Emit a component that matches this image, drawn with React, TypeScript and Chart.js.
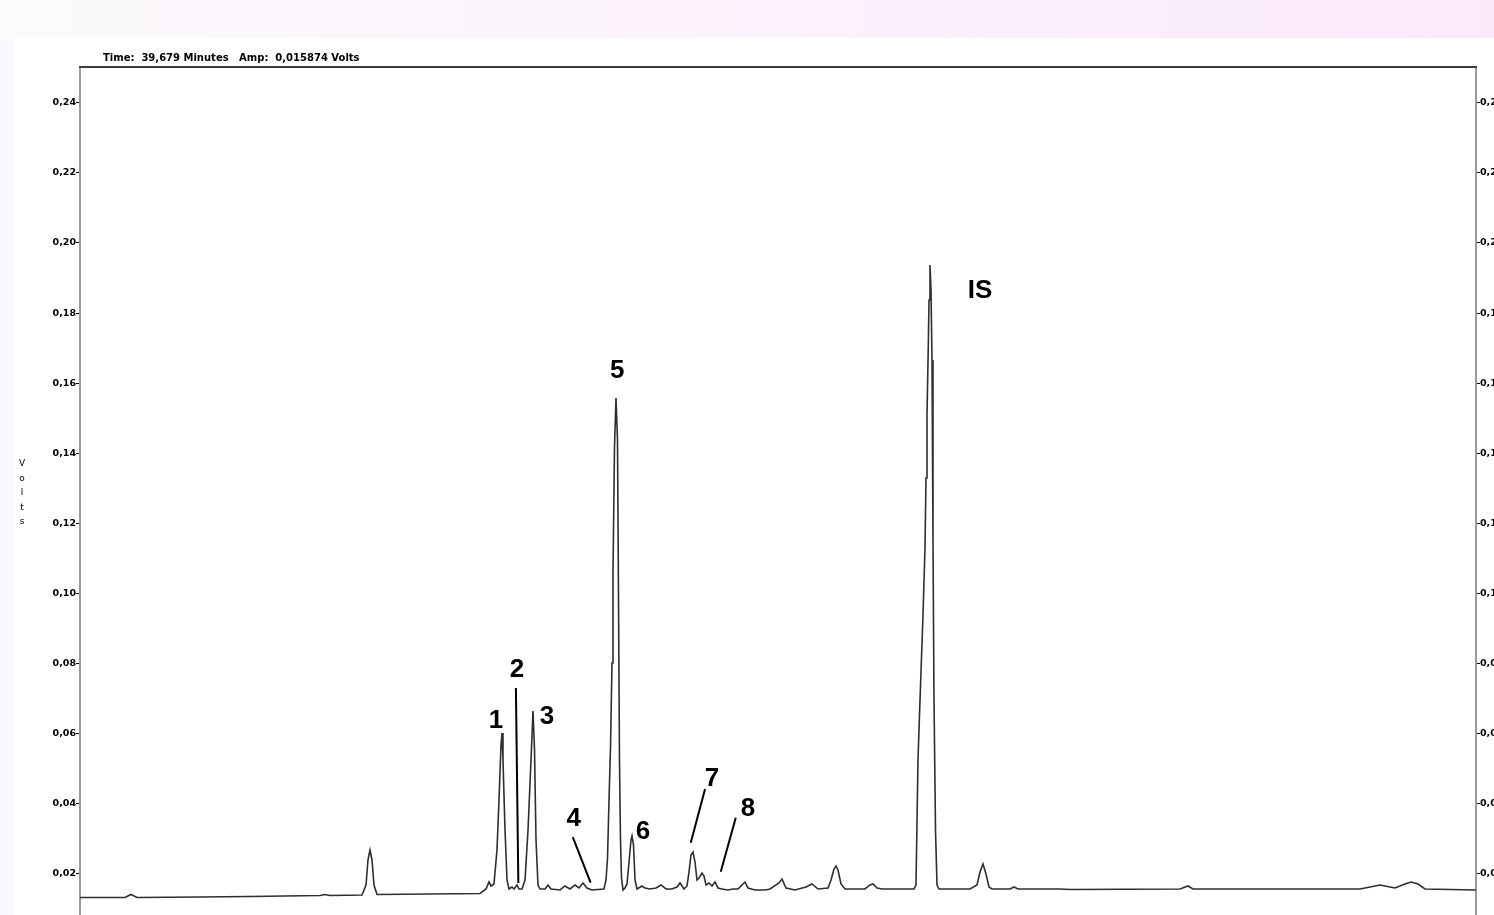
import React, { useEffect, useRef } from "react";
import { Chart, registerables } from "chart.js";

Chart.register(...registerables);

// Retention time (minutes) and detector signal (volts)
const TIME_MIN = [
  0, 1.289, 1.461, 1.633, 3.438, 4.871, 6.877, 7.02, 7.163,
  8.08, 8.195, 8.252, 8.309, 8.367, 8.424, 8.51,
  10.029, 11.461, 11.633, 11.719, 11.777, 11.862, 11.948, 12.006, 12.063, 12.092, 12.12, 12.178, 12.235, 12.292,
  12.378, 12.436, 12.521, 12.579, 12.665,
  12.751, 12.837, 12.923, 12.98, 13.023, 13.066, 13.123, 13.181,
  13.324, 13.41, 13.496, 13.754, 13.897, 14.04, 14.183, 14.298, 14.413, 14.527, 14.67, 15.014,
  15.072, 15.115, 15.158, 15.201, 15.244, 15.272, 15.315, 15.358, 15.401, 15.43, 15.458, 15.487, 15.516, 15.559, 15.616,
  15.673, 15.731, 15.788, 15.817, 15.86, 15.903, 15.96,
  16.103, 16.189, 16.332, 16.504, 16.648, 16.791, 16.963, 17.106, 17.192, 17.307, 17.393,
  17.45, 17.507, 17.564, 17.622, 17.679, 17.736, 17.822, 17.88, 17.937, 18.023, 18.109, 18.195, 18.281, 18.395, 18.567, 18.711, 18.854,
  18.968, 19.054, 19.14, 19.341, 19.628, 19.771, 20.029, 20.115, 20.229, 20.487, 20.802, 20.974, 21.146, 21.433, 21.519, 21.605, 21.662, 21.719, 21.805, 21.92,
  22.493, 22.636, 22.722, 22.837, 22.98, 23.897,
  23.954, 24.011, 24.054, 24.097, 24.155, 24.212, 24.241, 24.269, 24.307, 24.327, 24.355, 24.384, 24.413, 24.441, 24.47, 24.513, 24.556, 24.613,
  25.501, 25.702, 25.788, 25.874, 25.96, 26.046, 26.132, 26.648, 26.762, 26.877,
  28.08, 28.367, 31.519, 31.748, 31.891,
  36.676, 36.963, 37.249, 37.536, 37.679, 37.966, 38.138, 38.338, 38.539, 40.0,
];

const SIGNAL_V = [
  0.01327, 0.01327, 0.01412, 0.01327, 0.01341, 0.01355, 0.01384, 0.01412, 0.01384,
  0.01398, 0.01683, 0.02397, 0.02682, 0.02397, 0.01683, 0.01412,
  0.01427, 0.01441, 0.01569, 0.01769, 0.01655, 0.01712, 0.02682, 0.04108, 0.05677, 0.0602, 0.0525, 0.03252, 0.01826, 0.01569,
  0.01626, 0.01569, 0.01683, 0.01569, 0.01569,
  0.01826, 0.03252, 0.0525, 0.06647, 0.05535, 0.02967, 0.01683, 0.01569,
  0.01569, 0.01683, 0.01569, 0.01541, 0.01655, 0.01569, 0.01683, 0.01598, 0.0174, 0.01598, 0.01541, 0.01569,
  0.01826, 0.02454, 0.04108, 0.0562, 0.08017, 0.10585, 0.14179, 0.15577, 0.14379, 0.099, 0.0525, 0.02967, 0.01883, 0.01541, 0.01598,
  0.01712, 0.02339, 0.02967, 0.03081, 0.02824, 0.01826, 0.01569,
  0.01655, 0.01598, 0.01569, 0.01598, 0.01683, 0.01569, 0.01569, 0.01626, 0.0174, 0.01569, 0.01655,
  0.02054, 0.02539, 0.02625, 0.02339, 0.01826, 0.01883, 0.02026, 0.0194, 0.01683, 0.0174, 0.01655, 0.01769, 0.01598, 0.01569, 0.01541, 0.01569, 0.01569,
  0.01683, 0.01769, 0.01598, 0.01541, 0.01541, 0.01569, 0.0174, 0.01854, 0.01598, 0.01541, 0.01626, 0.01712, 0.01569, 0.01598, 0.01826, 0.0214, 0.02225, 0.02111, 0.01712, 0.01569,
  0.01569, 0.01683, 0.01712, 0.01598, 0.01569, 0.01569,
  0.01683, 0.0525, 0.06533, 0.0776, 0.09386, 0.11298, 0.13295, 0.15092, 0.17089, 0.18373, 0.19372, 0.18659, 0.16662, 0.11526, 0.06961, 0.03252, 0.01683, 0.01569,
  0.01569, 0.01683, 0.02054, 0.02282, 0.01997, 0.01626, 0.01569, 0.01569, 0.01626, 0.01569,
  0.01569, 0.01555, 0.01569, 0.01655, 0.01569,
  0.01569, 0.01626, 0.01683, 0.01626, 0.01598, 0.01712, 0.01769, 0.01712, 0.01569, 0.01541,
];

const Y_TICKS = [0.02, 0.04, 0.06, 0.08, 0.1, 0.12, 0.14, 0.16, 0.18, 0.2, 0.22, 0.24];
const Y_TICK_LABELS = ["0,02", "0,04", "0,06", "0,08", "0,10", "0,12", "0,14", "0,16", "0,18", "0,20", "0,22", "0,24"];

const PEAK_LABELS = ["1", "2", "3", "4", "5", "6", "7", "8", "IS"];
const PEAK_LABEL_T = [11.92, 12.52, 13.38, 14.15, 15.39, 16.13, 18.11, 19.14, 25.79];
const PEAK_LABEL_V = [0.0639, 0.0785, 0.065, 0.0359, 0.1638, 0.0322, 0.0474, 0.0388, 0.1866];

// Leader lines: [t1, v1, t2, v2]
const LEADERS = [
  [12.49, 0.073, 12.56, 0.0174],
  [14.12, 0.0305, 14.63, 0.0175],
  [17.91, 0.0442, 17.5, 0.0289],
  [18.79, 0.036, 18.36, 0.0206],
];

const HEADER = "Time:  39,679 Minutes   Amp:  0,015874 Volts";
const Y_TITLE = "Volts";

const Y_MIN = 0.00827;
const Y_MAX = 0.2502;

const SMALL_FONT = "'DejaVu Sans', Verdana, sans-serif";

export default function App() {
  const ref = useRef<HTMLCanvasElement | null>(null);

  useEffect(() => {
    if (!ref.current) return;
    const points = TIME_MIN.map((t, i) => ({ x: t, y: SIGNAL_V[i] }));

    const overlay = {
      id: "overlay",
      afterDraw(chart: any) {
        const { ctx, chartArea, scales } = chart;
        const xs = scales.x;
        const ys = scales.y;
        ctx.save();
        // top frame line
        ctx.strokeStyle = "#3c3c3c";
        ctx.lineWidth = 2;
        ctx.beginPath();
        ctx.moveTo(chartArea.left - 1, chartArea.top);
        ctx.lineTo(chartArea.right + 1, chartArea.top);
        ctx.stroke();

        // header
        ctx.fillStyle = "#000";
        ctx.font = "bold 10px " + SMALL_FONT;
        ctx.textAlign = "left";
        ctx.textBaseline = "middle";
        ctx.fillText(HEADER, 103, 58);

        // vertical y title
        ctx.font = "9px " + SMALL_FONT;
        ctx.textAlign = "center";
        Y_TITLE.split("").forEach((ch, i) => {
          ctx.fillText(ch, 22, 464 + i * 14.5);
        });

        // leader lines
        ctx.strokeStyle = "#000";
        ctx.lineWidth = 2;
        LEADERS.forEach(([t1, v1, t2, v2]) => {
          ctx.beginPath();
          ctx.moveTo(xs.getPixelForValue(t1), ys.getPixelForValue(v1));
          ctx.lineTo(xs.getPixelForValue(t2), ys.getPixelForValue(v2));
          ctx.stroke();
        });

        // peak labels
        ctx.font = "bold 26px Arial, 'Liberation Sans', sans-serif";
        ctx.textAlign = "center";
        ctx.textBaseline = "middle";
        PEAK_LABELS.forEach((lab, i) => {
          ctx.fillText(lab, xs.getPixelForValue(PEAK_LABEL_T[i]), ys.getPixelForValue(PEAK_LABEL_V[i]) + 1);
        });
        ctx.restore();
      },
    };

    const axisCommon = (pos: string, w: number) => ({
      position: pos,
      min: Y_MIN,
      max: Y_MAX,
      afterFit: (s: any) => {
        s.width = w;
        s.paddingTop = 0;
        s.paddingBottom = 0;
      },
      afterBuildTicks: (s: any) => {
        s.ticks = Y_TICKS.map((v) => ({ value: v }));
      },
      ticks: {
        callback: (_v: any, i: number) => Y_TICK_LABELS[i],
        font: { size: 9.5, weight: "bold", family: SMALL_FONT },
        color: "#000",
        padding: 0,
      },
      grid: { drawOnChartArea: false, drawTicks: true, tickLength: 4, color: "#000", tickWidth: 1 },
      border: { color: "#9b9b9b", width: 2 },
    });

    const chart = new Chart(ref.current, {
      type: "line",
      data: {
        datasets: [
          {
            data: points,
            borderColor: "#2e2e2e",
            borderWidth: 1.6,
            pointRadius: 0,
            tension: 0,
            fill: false,
          },
        ],
      },
      options: {
        animation: false,
        responsive: false,
        devicePixelRatio: 1,
        layout: { padding: { top: 67, left: 0, right: 0, bottom: 0 } },
        plugins: { legend: { display: false }, tooltip: { enabled: false }, title: { display: false } },
        scales: {
          x: { type: "linear", min: 0, max: 40, display: false },
          y: axisCommon("left", 80) as any,
          y2: axisCommon("right", 18) as any,
        },
      },
      plugins: [overlay],
    });
    return () => chart.destroy();
  }, []);

  return (
    <div style={{ position: "fixed", left: 0, top: 0, width: 1494, height: 915, background: "#f9f8fc", overflow: "hidden" }}>
      <div style={{ position: "absolute", left: 0, top: 0, width: 1494, height: 38, background: "linear-gradient(to right, #fcfafd, #fbe9fb)" }} />
      <div style={{ position: "absolute", left: 14, top: 38, width: 1480, height: 877, background: "#ffffff" }} />
      <canvas ref={ref} width={1494} height={915} style={{ position: "absolute", left: 0, top: 0, width: 1494, height: 915 }} />
    </div>
  );
}
